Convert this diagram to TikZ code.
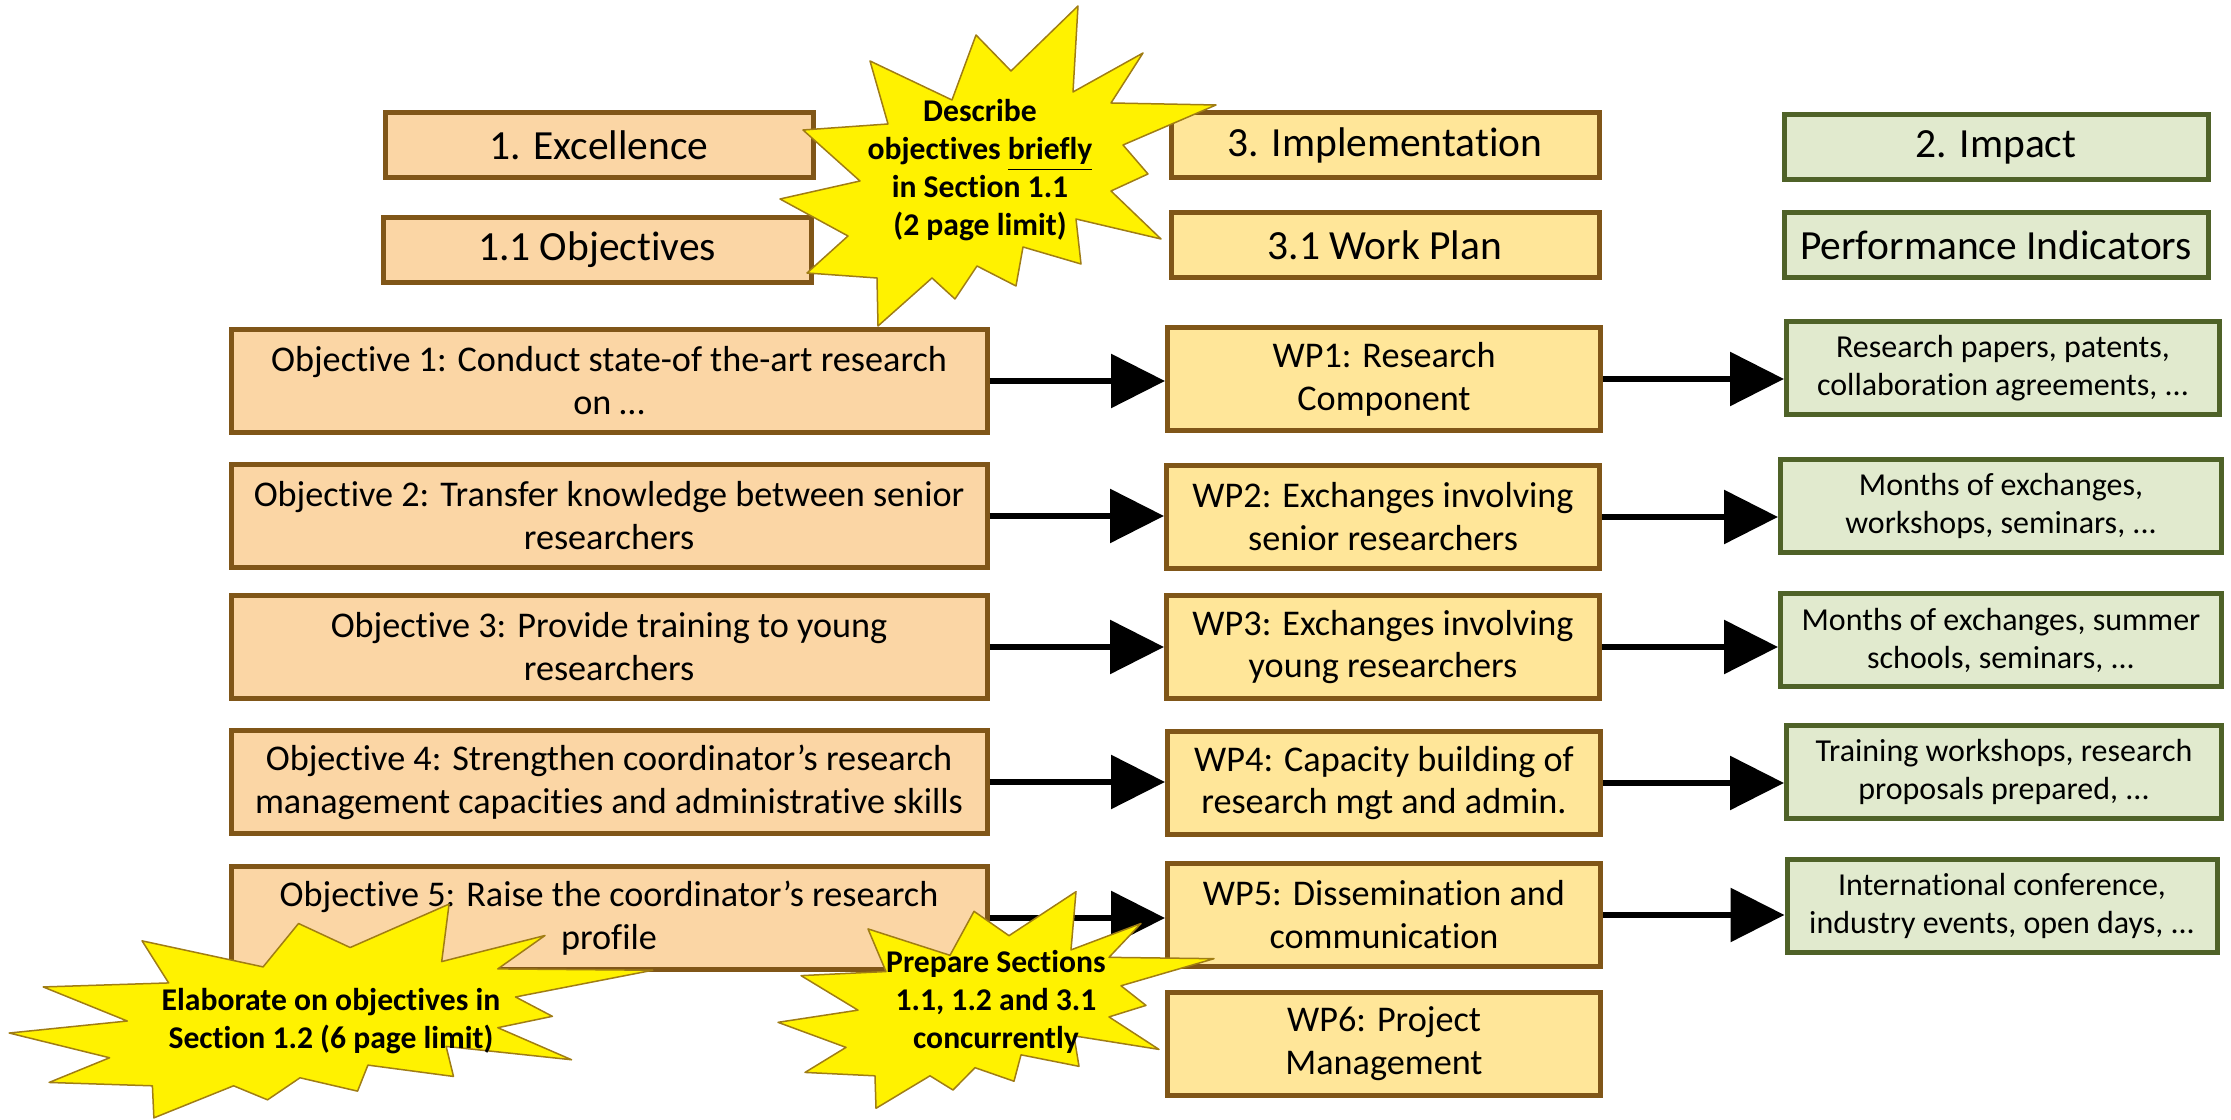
\documentclass[tikz,border=0pt]{standalone}
\usepackage{fontspec}
\setmainfont{Carlito}[Ligatures=NoCommon]
\usetikzlibrary{arrows.meta}
\definecolor{peach}{RGB}{251,214,165}
\definecolor{gold}{RGB}{255,230,153}
\definecolor{sage}{RGB}{225,234,206}
\definecolor{brn}{RGB}{128,86,24}
\definecolor{olv}{RGB}{79,98,40}
\definecolor{burstline}{RGB}{160,125,20}
\newcommand{\burst}[1]{%
  \draw [burst, #1] (80,-160) -- (75,-74) -- (145,-113) -- (113,-63) -- (218,-61)
    -- (125,-21) -- (150,8) -- (113,25) -- (163,73) -- (78,53) -- (83,98) -- (25,81)
    -- (18,120) -- (-21,100) -- (-43,133) -- (-66,112) -- (-120,160) -- (-121,112)
    -- (-191,107) -- (-150,70) -- (-218,33) -- (-138,15) -- (-195,-36) -- (-110,-42)
    -- (-128,-105) -- (-46,-66) -- (-22,-131) -- (13,-95) -- cycle;}

\begin{document}
\begin{tikzpicture}[x=0.1mm, y=-0.1mm, >={Triangle[length=5.4mm,width=5.3mm]},
    box/.style={line width=0.5mm, inner sep=0pt, align=center},
    hd/.style={box, draw=brn, minimum width=42.8mm, minimum height=6.5mm,
      font=\fontsize{11.8pt}{14pt}\selectfont},
    obj/.style={box, draw=brn, fill=peach, minimum width=75.6mm, minimum height=10.3mm,
      font=\fontsize{10.3pt}{12.2pt}\selectfont},
    wp/.style={box, draw=brn, fill=gold, minimum width=43.3mm, minimum height=10.3mm,
      font=\fontsize{10.3pt}{12.2pt}\selectfont},
    ind/.style={box, draw=olv, fill=sage, minimum width=43.5mm, minimum height=9.3mm,
      font=\fontsize{9.1pt}{10.8pt}\selectfont},
    burst/.style={draw=burstline, fill=yellow, line width=0.15mm, line join=round},
    note/.style={align=center, inner sep=0pt, font=\bfseries\fontsize{9pt}{10.8pt}\selectfont},
    link/.style={->, line width=0.6mm}]
  \useasboundingbox (0,0) rectangle (2231,1120);

  % headings
  \node [hd, fill=peach, name=exc] at (599,145) {1. Excellence};
  \node [hd, fill=peach, name=objs] at (597,250) {1.1 Objectives};
  \node [hd, fill=gold, name=impl] at (1385,145) {3. Implementation};
  \node [hd, fill=gold, name=wplan] at (1385,245) {3.1 Work Plan};
  \node [hd, draw=olv, fill=sage, minimum width=42.4mm, name=imp] at (1996,147) {2. Impact};
  \node [hd, draw=olv, fill=sage, minimum width=42.4mm, name=perf] at (1996,245) {Performance Indicators};

  % objectives
  \node [obj, name=o1] at (609,381) {Objective 1: Conduct state-of the-art research\\on …};
  \node [obj, name=o2] at (609,516) {Objective 2: Transfer knowledge between senior\\researchers};
  \node [obj, name=o3] at (609,647) {Objective 3: Provide training to young\\researchers};
  \node [obj, name=o4] at (609,782) {Objective 4: Strengthen coordinator’s research\\management capacities and administrative skills};
  \node [obj, name=o5] at (609,918) {Objective 5: Raise the coordinator’s research\\profile};

  % work packages
  \node [wp, name=w1] at (1384,379) {WP1: Research\\Component};
  \node [wp, name=w2] at (1383,517) {WP2: Exchanges involving\\senior researchers};
  \node [wp, name=w3] at (1383,647) {WP3: Exchanges involving\\young researchers};
  \node [wp, name=w4] at (1384,783) {WP4: Capacity building of\\research mgt and admin.};
  \node [wp, name=w5] at (1384,915) {WP5: Dissemination and\\communication};
  \node [wp, name=w6] at (1384,1044) {WP6: Project\\Management};

  % indicators
  \node [ind, minimum width=43.3mm, name=g1] at (2003,368) {Research papers, patents,\\collaboration agreements, ...};
  \node [ind, minimum width=44.1mm, name=g2] at (2001,506) {Months of exchanges,\\workshops, seminars, ...};
  \node [ind, minimum width=44.1mm, name=g3] at (2001,640) {Months of exchanges, summer\\schools, seminars, ...};
  \node [ind, name=g4] at (2004,772) {Training workshops, research\\proposals prepared, ...};
  \node [ind, minimum width=43.0mm, name=g5] at (2002,906) {International conference,\\industry events, open days, ...};

  \draw [link] (o1.east) -- (o1.east -| w1.west);
  \draw [link] (o2.east) -- (o2.east -| w2.west);
  \draw [link] (o3.east) -- (o3.east -| w3.west);
  \draw [link] (o4.east) -- (o4.east -| w4.west);
  \draw [link] (o5.east) -- (o5.east -| w5.west);
  \draw [link] (w1.east) -- (w1.east -| g1.west);
  \draw [link] (w2.east) -- (w2.east -| g2.west);
  \draw [link] (w3.east) -- (w3.east -| g3.west);
  \draw [link] (w4.east) -- (w4.east -| g4.west);
  \draw [link] (w5.east) -- (w5.east -| g5.west);

  % call-outs
  \burst{shift={(998,166)}}
  \node [note, name=brief] at (980,170) {Describe\\objectives \underline{briefly}\\in Section 1.1\\(2 page limit)};
  \burst{shift={(331,1011)}, xscale=1.476, yscale=0.668}
  \node [note, name=elab] at (331,1021) {Elaborate on objectives in\\Section 1.2 (6 page limit)};
  \burst{shift={(996,1000)}, yscale=0.677}
  \node [note, name=prep] at (996,1002) {Prepare Sections\\1.1, 1.2 and 3.1\\concurrently};
\end{tikzpicture}
\end{document}
